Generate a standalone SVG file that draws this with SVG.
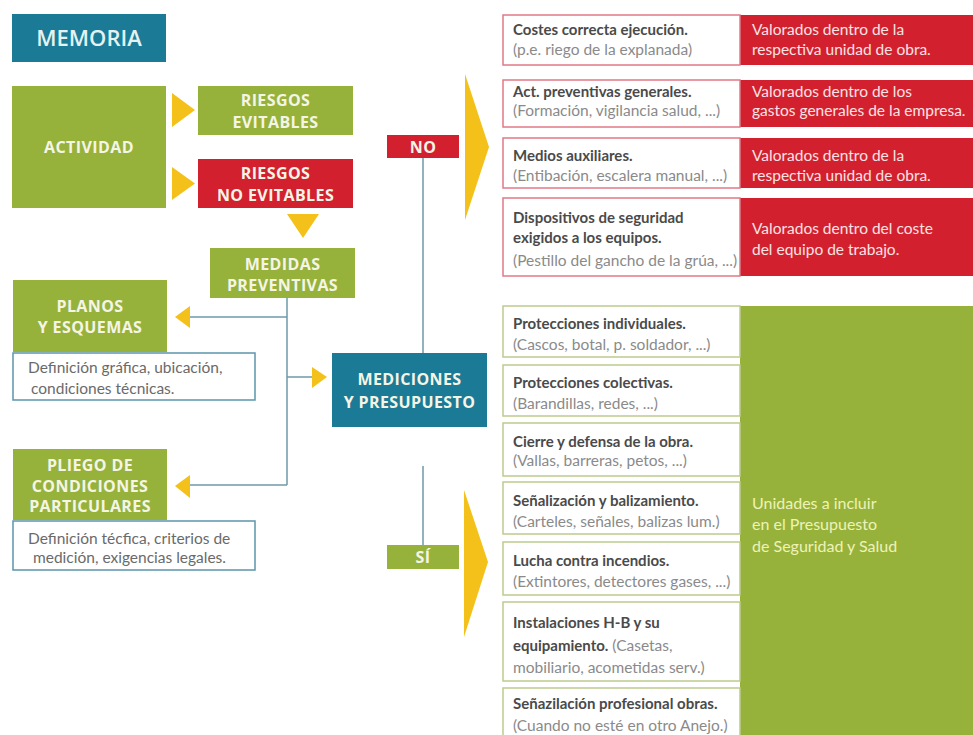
<svg xmlns="http://www.w3.org/2000/svg" width="973" height="735" viewBox="0 0 973 735">
<style>
.teal{fill:#1b7a96}
.green{fill:#96b23b}
.red{fill:#d3202f}
.yel{fill:#f3c11a}
.hd{font-family:"Open Sans","Liberation Sans",sans-serif;font-weight:700;font-size:16px;fill:#f5f5e6;text-anchor:middle;letter-spacing:0.4px}
.desc{fill:#fff;stroke:#5b95ac;stroke-width:1.5}
.dt{font-family:Lato,"Liberation Sans",sans-serif;font-size:15.5px;fill:#6a6a6a}
.rb{fill:#fff;stroke:#e07a86;stroke-width:1.5}
.gb{fill:#fff;stroke:#bccb8e;stroke-width:1.5}
.b{font-family:Lato,"Liberation Sans",sans-serif;font-size:15px;font-weight:700;fill:#4a4a4a}
.s{font-family:Lato,"Liberation Sans",sans-serif;font-size:15.5px;fill:#8a8a8a}
.w{font-family:Lato,"Liberation Sans",sans-serif;font-size:15.5px;fill:#fbe3e3}
.gw{font-family:Lato,"Liberation Sans",sans-serif;font-size:16px;fill:#eef2b8}
.ln{fill:none;stroke:#6f9aa8;stroke-width:1.5}
</style>
<rect width="973" height="735" fill="#fff"/>

<g id="memoria">
<rect class="teal" x="12" y="14" width="154" height="48"/>
<text x="89" y="46" text-anchor="middle" font-family="Open Sans,Liberation Sans,sans-serif" font-size="22" font-weight="600" fill="#e4f2f2">MEMORIA</text>
</g>

<g id="actividad">
<rect class="green" x="12" y="86" width="154" height="122"/>
<text class="hd" x="89" y="152.5">ACTIVIDAD</text>
</g>

<g id="riesgos-evitables">
<rect class="green" x="198" y="86" width="155" height="49"/>
<text class="hd" x="275.5" y="106">RIESGOS</text>
<text class="hd" x="275.5" y="127.5">EVITABLES</text>
</g>

<g id="riesgos-no-evitables">
<rect class="red" x="198" y="159" width="155" height="49"/>
<text class="hd" x="275.5" y="179">RIESGOS</text>
<text class="hd" x="275.5" y="200.5">NO EVITABLES</text>
</g>

<g id="medidas">
<rect class="green" x="210" y="248" width="145" height="50"/>
<text class="hd" x="282.5" y="270">MEDIDAS</text>
<text class="hd" x="282.5" y="291">PREVENTIVAS</text>
</g>

<g id="planos">
<rect class="green" x="13" y="280" width="154" height="72"/>
<text class="hd" x="90" y="312">PLANOS</text>
<text class="hd" x="90" y="333">Y ESQUEMAS</text>
<rect class="desc" x="13" y="353" width="242" height="47"/>
<text class="dt" x="28" y="372.5">Definición gráfica, ubicación,</text>
<text class="dt" x="31" y="393.5">condiciones técnicas.</text>
</g>

<g id="pliego">
<rect class="green" x="13" y="449" width="154" height="71"/>
<text class="hd" x="90" y="471">PLIEGO DE</text>
<text class="hd" x="90" y="492">CONDICIONES</text>
<text class="hd" x="90" y="512">PARTICULARES</text>
<rect class="desc" x="13" y="521" width="242" height="49"/>
<text class="dt" x="28" y="543.5">Definición técfica, criterios de</text>
<text class="dt" x="33" y="562.5">medición, exigencias legales.</text>
</g>

<g id="mediciones">
<rect class="teal" x="332" y="353" width="155" height="74"/>
<text class="hd" x="409.5" y="385">MEDICIONES</text>
<text class="hd" x="409.5" y="408">Y PRESUPUESTO</text>
</g>

<g id="no">
<rect class="red" x="387" y="135" width="72" height="23"/>
<text class="hd" x="423" y="152.5">NO</text>
</g>

<g id="si">
<rect class="green" x="387" y="545" width="72" height="24"/>
<text class="hd" x="423" y="563">SÍ</text>
</g>

<g id="connectors">
<polygon class="yel" points="172,93 195,110 172,127"/>
<polygon class="yel" points="172,167 195,183.5 172,200"/>
<polygon class="yel" points="287,214 319,214 303,238"/>
<path class="ln" d="M287,298 V485 M287,317 H188 M287,377 H313 M287,485 H188"/>
<polygon class="yel" points="175,317 190,306 190,328"/>
<polygon class="yel" points="327,377 312,367 312,388"/>
<polygon class="yel" points="175,486 190,475 190,498"/>
<path class="ln" d="M423,158 V353 M423,466 V545"/>
<polygon class="yel" points="465,74 489,147 465,220"/>
<polygon class="yel" points="464,490 488,562 464,637"/>
</g>

<g id="no-items">
<rect class="red" x="740" y="15" width="233" height="50"/>
<rect class="rb" x="503" y="15" width="237" height="50"/>
<text class="b" x="513" y="35">Costes correcta ejecución.</text>
<text class="s" x="513" y="54.5">(p.e. riego de la explanada)</text>
<text class="w" x="752" y="35">Valorados dentro de la</text>
<text class="w" x="752" y="54.5">respectiva unidad de obra.</text>

<rect class="red" x="740" y="80" width="233" height="47"/>
<rect class="rb" x="503" y="80" width="237" height="47"/>
<text class="b" x="513" y="96.5">Act. preventivas generales.</text>
<text class="s" x="513" y="115.5">(Formación, vigilancia salud, ...)</text>
<text class="w" x="752" y="96.5">Valorados dentro de los</text>
<text class="w" x="752" y="115.5">gastos generales de la empresa.</text>

<rect class="red" x="740" y="138" width="233" height="50"/>
<rect class="rb" x="503" y="138" width="237" height="50"/>
<text class="b" x="513" y="160.5">Medios auxiliares.</text>
<text class="s" x="513" y="180.5">(Entibación, escalera manual, ...)</text>
<text class="w" x="752" y="160.5">Valorados dentro de la</text>
<text class="w" x="752" y="180.5">respectiva unidad de obra.</text>

<rect class="red" x="740" y="198" width="233" height="78"/>
<rect class="rb" x="503" y="198" width="237" height="78"/>
<text class="b" x="513" y="222.5">Dispositivos de seguridad</text>
<text class="b" x="513" y="242.5">exigidos a los equipos.</text>
<text class="s" x="513" y="265.5">(Pestillo del gancho de la grúa, ...)</text>
<text class="w" x="752" y="233.5">Valorados dentro del coste</text>
<text class="w" x="752" y="254.5">del equipo de trabajo.</text>
</g>

<g id="si-items">
<rect class="green" x="740" y="306" width="233" height="429"/>
<text class="gw" x="752" y="508.5">Unidades a incluir</text>
<text class="gw" x="752" y="529.5">en el Presupuesto</text>
<text class="gw" x="752" y="551.5">de Seguridad y Salud</text>

<rect class="gb" x="503" y="306" width="237" height="51"/>
<text class="b" x="513" y="328.5">Protecciones individuales.</text>
<text class="s" x="513" y="349.5">(Cascos, botal, p. soldador, ...)</text>

<rect class="gb" x="503" y="365" width="237" height="51"/>
<text class="b" x="513" y="387.5">Protecciones colectivas.</text>
<text class="s" x="513" y="408.5">(Barandillas, redes, ...)</text>

<rect class="gb" x="503" y="423" width="237" height="53"/>
<text class="b" x="513" y="446.5">Cierre y defensa de la obra.</text>
<text class="s" x="513" y="465.5">(Vallas, barreras, petos, ...)</text>

<rect class="gb" x="503" y="482" width="237" height="52"/>
<text class="b" x="513" y="505.5">Señalización y balizamiento.</text>
<text class="s" x="513" y="526.5">(Carteles, señales, balizas lum.)</text>

<rect class="gb" x="503" y="542" width="237" height="53"/>
<text class="b" x="513" y="565.5">Lucha contra incendios.</text>
<text class="s" x="513" y="586.5">(Extintores, detectores gases, ...)</text>

<rect class="gb" x="503" y="602" width="237" height="79"/>
<text class="b" x="513" y="627.5">Instalaciones H-B y su</text>
<text x="513" y="650.5"><tspan class="b">equipamiento.</tspan><tspan class="s"> (Casetas,</tspan></text>
<text class="s" x="513" y="672.5">mobiliario, acometidas serv.)</text>

<rect class="gb" x="503" y="688" width="237" height="50"/>
<text class="b" x="513" y="708.5">Señazilación profesional obras.</text>
<text class="s" x="513" y="730.5">(Cuando no esté en otro Anejo.)</text>
</g>
</svg>
